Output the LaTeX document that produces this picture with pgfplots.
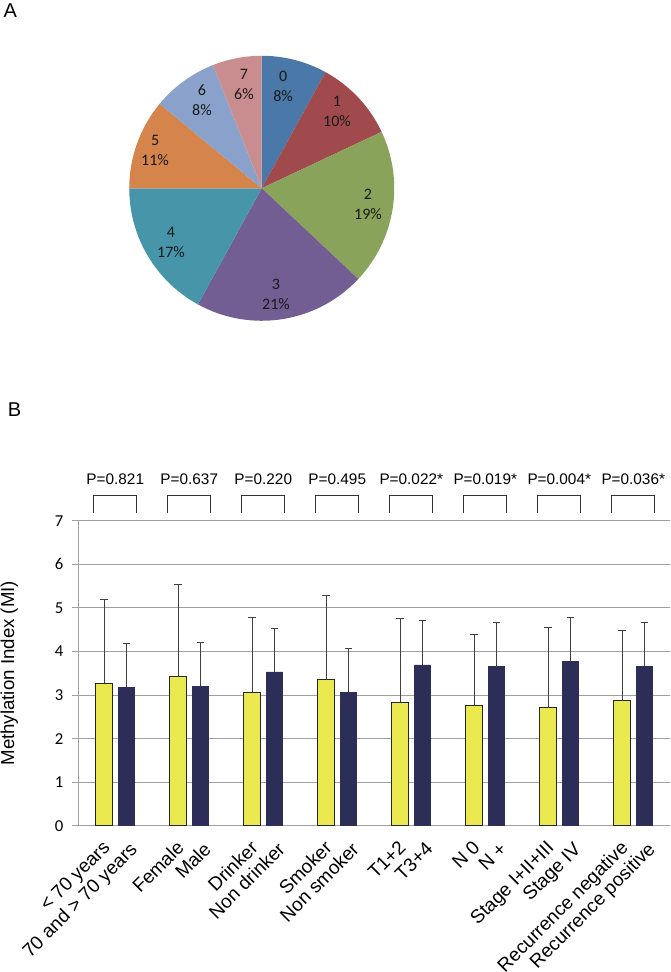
\documentclass[border=0pt]{standalone}
\usepackage{fontspec}
\setmainfont{Liberation Sans}
\newfontfamily\calibri{Carlito}
\usepackage{pgfplots}
\usepackage{pgfplotstable}
\pgfplotsset{compat=1.18}

\definecolor{pc0}{HTML}{4A78A8}
\definecolor{pc1}{HTML}{A04A4E}
\definecolor{pc2}{HTML}{8AA35A}
\definecolor{pc3}{HTML}{725E92}
\definecolor{pc4}{HTML}{4795A8}
\definecolor{pc5}{HTML}{D5844C}
\definecolor{pc6}{HTML}{8AA2CB}
\definecolor{pc7}{HTML}{C98C8F}
\definecolor{ybar}{HTML}{EAEA50}
\definecolor{nbar}{HTML}{2C2E57}
\definecolor{gridgray}{HTML}{A0A0A0}

\tikzset{xlab/.style={rotate=45, anchor=north east, inner sep=0pt, font=\fontsize{14.25}{17}\selectfont}}

\pgfplotstableread{
x y ey
0 3.27 1.92
1 3.42 2.12
2 3.06 1.73
3 3.35 1.93
4 2.84 1.92
5 2.77 1.63
6 2.71 1.85
7 2.87 1.60
}\lowtab
\pgfplotstableread{
x y ey
0 3.18 1.01
1 3.20 1.00
2 3.53 1.00
3 3.06 1.01
4 3.69 1.01
5 3.65 1.01
6 3.77 1.00
7 3.66 1.00
}\hightab

\begin{document}
\begin{tikzpicture}
\useasboundingbox (0,0) rectangle (503.25pt,-729pt);
\node[font=\fontsize{15}{17}\selectfont] at (7.7pt,-8pt) {A};
\node[font=\fontsize{15}{17}\selectfont] at (11pt,-307.5pt) {B};

% ---------------- Pie ----------------
\begin{axis}[name=pie, scale only axis, width=198.75pt, height=198.75pt,
  xmin=-1, xmax=1, ymin=-1, ymax=1, hide axis, clip=false,
  anchor=center, at={(196.3pt,-141.2pt)}]
\xdef\cur{90}
\foreach \v/\c in {8/pc0,10/pc1,19/pc2,21/pc3,17/pc4,11/pc5,8/pc6,6/pc7}{
  \pgfmathsetmacro\nxt{\cur-3.6*\v}
  \edef\tmp{\noexpand\fill[\c] (axis cs:0,0) -- ++(\cur:99.375pt) arc[start angle=\cur, end angle=\nxt, radius=99.375pt] -- cycle;}
  \tmp
  \xdef\cur{\nxt}
}
\begin{scope}[every node/.style={align=center, text=black!90, font=\calibri\fontsize{12}{15}\selectfont}]
\node at (axis cs:0.161,0.772) {0\\8\%};
\node at (axis cs:0.568,0.583) {1\\10\%};
\node at (axis cs:0.802,-0.118) {2\\19\%};
\node at (axis cs:0.108,-0.798) {3\\21\%};
\node at (axis cs:-0.685,-0.405) {4\\17\%};
\node at (axis cs:-0.805,0.282) {5\\11\%};
\node at (axis cs:-0.451,0.666) {6\\8\%};
\node at (axis cs:-0.134,0.780) {7\\6\%};
\end{scope}
\end{axis}

% ---------------- Bars ----------------
\begin{axis}[name=bars, scale only axis, width=444pt, height=228.75pt,
  anchor=south west, at={(58.7pt,-619.3pt)},
  xmin=-0.5, xmax=7.5, ymin=0, ymax=7, ytick={0,1,...,7},
  axis lines=left, axis line style={-, color=gridgray, line width=0.75pt},
  ymajorgrids, grid style={gridgray, line width=0.75pt},
  xtick=\empty,
  ytick style={color=gridgray, line width=0.75pt},
  tick align=outside, major tick length=5pt,
  /pgf/number format/assume math mode=true,
  yticklabel style={font=\calibri\fontsize{12.5}{14}\selectfont, inner sep=0pt, xshift=-6pt},
  clip=false,
]
\addplot[ybar, bar width=12.4pt, bar shift=0pt, fill=ybar, draw=black!85, line width=0.6pt,
  error bars/.cd, y dir=plus, y explicit,
  error bar style={color=black!75, line width=0.75pt},
  error mark options={rotate=90, color=black!75, line width=0.75pt, mark size=2.75pt}]
  table[x expr=\thisrow{x}-0.1514, y=y, y error=ey] {\lowtab};
\addplot[ybar, bar width=12.4pt, bar shift=0pt, fill=nbar, draw=nbar, line width=0.6pt,
  error bars/.cd, y dir=plus, y explicit,
  error bar style={color=black!75, line width=0.75pt},
  error mark options={rotate=90, color=black!75, line width=0.75pt, mark size=2.75pt}]
  table[x expr=\thisrow{x}+0.1514, y=y, y error=ey] {\hightab};
% category labels
\foreach \x/\l in {-0.1514/{< 70 years},0.8486/{Female},1.8486/{Drinker},2.8486/{Smoker},3.8486/{T1+2},4.8486/{N 0},5.8486/{Stage I+II+III},6.8486/{Recurrence negative}}{
  \edef\tmp{\noexpand\node[xlab] at ([shift={(-2pt,-10pt)}]axis cs:\x,0) {\l};}
  \tmp
}
\foreach \x/\l in {0.1514/{70 and > 70 years},1.1514/{Male},2.1514/{Non drinker},3.1514/{Non smoker},4.1514/{T3+4},5.1514/{N +},6.1514/{Stage IV},7.1514/{Recurrence positive}}{
  \edef\tmp{\noexpand\node[xlab] at ([shift={(1.5pt,-11.1pt)}]axis cs:\x,0) {\l};}
  \tmp
}
% significance brackets and P values
\begin{scope}[black!80, line width=0.75pt]
\foreach \i/\p in {0/{P=0.821},1/{P=0.637},2/{P=0.220},3/{P=0.495},4/{P=0.022*},5/{P=0.019*},6/{P=0.004*},7/{P=0.036*}}{
  \edef\tmp{\noexpand\draw (axis cs:\i-0.288,7.17) |- (axis cs:\i+0.288,7.59) -- (axis cs:\i+0.288,7.17);
    \noexpand\node[text=black, font=\noexpand\fontsize{11.5}{13}\noexpand\selectfont] at (axis cs:\i,7.95) {\p};}
  \tmp
}
\end{scope}
\end{axis}

\node[rotate=90, font=\fontsize{14}{16}\selectfont] at (7pt,-504.9pt) {Methylation Index (MI)};
\end{tikzpicture}
\end{document}
